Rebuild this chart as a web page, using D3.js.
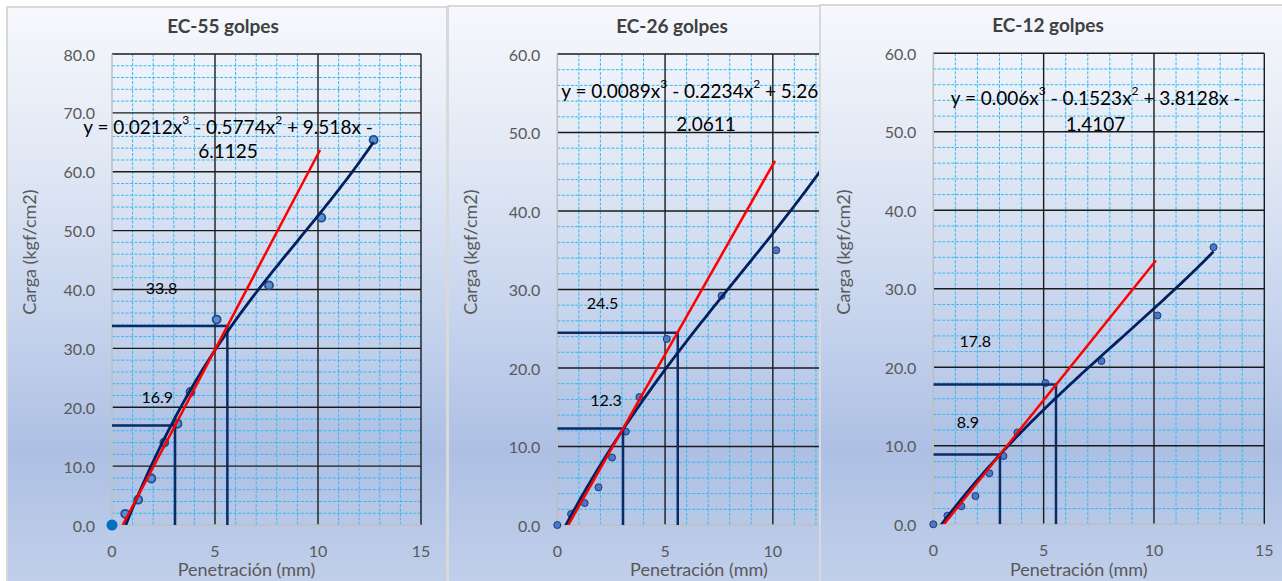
<!DOCTYPE html>
<html lang="es">
<head>
<meta charset="UTF-8">
<title>CBR - carga vs penetración</title>
<script src="https://d3js.org/d3.v7.min.js"></script>
<style>
  body { margin: 0; background: #fff; }
  svg { display: block; font-family: Lato, "Open Sans", sans-serif; }
</style>
</head>
<body>
<div id="viz"></div>
<script>
// penetración estándar (mm)
const penetracion = [0, 0.64, 1.27, 1.91, 2.54, 3.18, 3.81, 5.08, 7.62, 10.16, 12.7];

// carga (kgf/cm2) por número de golpes
const carga55 = [0, 1.9, 4.3, 7.9, 14.0, 17.2, 22.6, 34.9, 40.7, 52.2, 65.4];
const carga26 = [0, 1.4, 2.8, 4.8, 8.6, 11.9, 16.3, 23.7, 29.2, 35.0, 46.5];
const carga12 = [0, 1.1, 2.3, 3.6, 6.5, 8.7, 11.7, 18.0, 20.8, 26.6, 35.3];

// línea de tendencia polinómica (a x³ + b x² + c x + d)
const poli55 = [0.0212, -0.5774, 9.518, -6.1125];
const poli26 = [0.0089, -0.2234, 5.265, -2.0611];
const poli12 = [0.006, -0.1523, 3.8128, -1.4107];

const ecuacion55 = ['y = 0.0212x³ - 0.5774x² + 9.518x -', '6.1125'];
const ecuacion26 = ['y = 0.0089x³ - 0.2234x² + 5.265x -', '2.0611'];
const ecuacion12 = ['y = 0.006x³ - 0.1523x² + 3.8128x -', '1.4107'];

// recta tangente (corrección de origen)
const tangente55 = [[0.52, 0], [10.1, 63.7]];
const tangente26 = [[0.51, 0], [10.1, 46.4]];
const tangente12 = [[0.48, 0], [10.09, 33.6]];

// penetración corregida (0.1" y 0.2") y carga corregida
const corregido55 = [[3.06, 16.9], [5.6, 33.8]];
const corregido26 = [[3.05, 12.3], [5.59, 24.5]];
const corregido12 = [[3.02, 8.9], [5.56, 17.8]];

const xTicks = [0, 5, 10, 15];
const yTicks80 = [0, 10, 20, 30, 40, 50, 60, 70, 80];
const yTicks60 = [0, 10, 20, 30, 40, 50, 60];

const W = 1282, H = 581;

const svg = d3.select('#viz').append('svg')
  .attr('width', W)
  .attr('height', H);

const defs = svg.append('defs');
const grad = defs.append('linearGradient')
  .attr('id', 'fondo')
  .attr('x1', 0).attr('y1', 0).attr('x2', 0).attr('y2', 1);
[[0, '#f6f8fc'], [0.25, '#e2e9f5'], [0.5, '#c9d6ee'], [0.76, '#adc0e4'], [1, '#c2d0ea']]
  .forEach(s => grad.append('stop').attr('offset', s[0]).attr('stop-color', s[1]));

const paneles = [
  {
    id: 'p55', titulo: 'EC-55 golpes', carga: carga55, poli: poli55, ecuacion: ecuacion55,
    tangente: tangente55, corregido: corregido55, yTicks: yTicks80, yMax: 80,
    marco: { x: 7, y: 7, w: 440 },
    plot: { left: 112, right: 421, top: 54, bottom: 525 },
    tituloPos: [223, 25], yLabelPos: [29, 252], ecuPos: [228, 126, 150],
    etiquetas: [[2.2, 21.9], [2.4, 40.4]],
    marcador: { r: 4, fill: '#5b8fd0', stroke: '#1f4e8c', sw: 1.8 }, origenGrande: true
  },
  {
    id: 'p26', titulo: 'EC-26 golpes', carga: carga26, poli: poli26, ecuacion: ecuacion26,
    tangente: tangente26, corregido: corregido26, yTicks: yTicks60, yMax: 60,
    marco: { x: 448, y: 6, w: 480 },
    plot: { left: 557.3, right: 880.6, top: 54, bottom: 525 },
    tituloPos: [672, 25], yLabelPos: [470, 252], ecuPos: [706, 90, 123],
    etiquetas: [[2.26, 16.0], [2.1, 28.4]],
    marcador: { r: 3.5, fill: '#4a78c8', stroke: '#1f3b70', sw: 1 }, origenGrande: false
  },
  {
    id: 'p12', titulo: 'EC-12 golpes', carga: carga12, poli: poli12, ecuacion: ecuacion12,
    tangente: tangente12, corregido: corregido12, yTicks: yTicks60, yMax: 60,
    marco: { x: 820, y: 5, w: 480 },
    plot: { left: 933.3, right: 1264.3, top: 53.3, bottom: 524.3 },
    tituloPos: [1048, 24], yLabelPos: [843, 252], ecuPos: [1095.5, 97, 123],
    etiquetas: [[1.57, 13.1], [1.9, 23.4]],
    marcador: { r: 3.5, fill: '#4a78c8', stroke: '#1f3b70', sw: 1 }, origenGrande: false
  }
];

const polinomio = c => x => ((c[0] * x + c[1]) * x + c[2]) * x + c[3];

paneles.forEach(p => {
  const g = svg.append('g');
  const P = p.plot;

  const x = d3.scaleLinear().domain([0, 15]).range([P.left, P.right]);
  const y = d3.scaleLinear().domain([0, p.yMax]).range([P.bottom, P.top]);

  // fondo del panel
  g.append('rect')
    .attr('x', p.marco.x).attr('y', p.marco.y)
    .attr('width', p.marco.w).attr('height', H - p.marco.y + 10)
    .attr('fill', 'url(#fondo)')
    .attr('stroke', '#d9d9d9').attr('stroke-width', 2);

  // rejilla menor
  const xMenor = d3.range(1, 15).filter(v => v % 5 !== 0);
  const yMenor = d3.range(2, p.yMax, 2).filter(v => v % 10 !== 0);
  g.append('g').selectAll('line').data(xMenor).join('line')
    .attr('x1', d => x(d)).attr('x2', d => x(d))
    .attr('y1', P.top).attr('y2', P.bottom)
    .attr('stroke', '#35b9ef').attr('stroke-width', 1).attr('stroke-dasharray', '3,1.5');
  g.append('g').selectAll('line').data(yMenor).join('line')
    .attr('x1', P.left).attr('x2', P.right)
    .attr('y1', d => y(d)).attr('y2', d => y(d))
    .attr('stroke', '#35b9ef').attr('stroke-width', 1).attr('stroke-dasharray', '3,1.5');

  // rejilla mayor
  g.append('g').selectAll('line').data(xTicks.slice(1)).join('line')
    .attr('x1', d => x(d)).attr('x2', d => x(d))
    .attr('y1', P.top).attr('y2', P.bottom)
    .attr('stroke', '#1a1a1a').attr('stroke-width', 1.4);
  g.append('g').selectAll('line').data(p.yTicks.slice(1)).join('line')
    .attr('x1', P.left).attr('x2', P.right)
    .attr('y1', d => y(d)).attr('y2', d => y(d))
    .attr('stroke', '#1a1a1a').attr('stroke-width', 1.4);

  // ejes
  g.append('line').attr('x1', P.left).attr('x2', P.left).attr('y1', P.top).attr('y2', P.bottom)
    .attr('stroke', '#bfbfbf').attr('stroke-width', 1.5);
  g.append('line').attr('x1', P.left).attr('x2', P.right).attr('y1', P.bottom).attr('y2', P.bottom)
    .attr('stroke', '#bfbfbf').attr('stroke-width', 1.5);

  // etiquetas de ejes
  g.append('g').selectAll('text').data(p.yTicks).join('text')
    .attr('x', P.left - 17).attr('y', d => y(d))
    .attr('text-anchor', 'end').attr('dominant-baseline', 'central')
    .attr('font-size', 16).attr('fill', '#595959')
    .text(d3.format('.1f'));
  g.append('g').selectAll('text').data(xTicks).join('text')
    .attr('x', d => x(d)).attr('y', P.bottom + 25)
    .attr('text-anchor', 'middle').attr('dominant-baseline', 'central')
    .attr('font-size', 16).attr('fill', '#595959')
    .text(d => d);

  g.append('text')
    .attr('x', (P.left + P.right) / 2 - 20).attr('y', 569)
    .attr('text-anchor', 'middle').attr('dominant-baseline', 'central')
    .attr('font-size', 18).attr('fill', '#595959')
    .text('Penetración (mm)');
  g.append('text')
    .attr('transform', `translate(${p.yLabelPos[0]},${p.yLabelPos[1]}) rotate(-90)`)
    .attr('text-anchor', 'middle').attr('dominant-baseline', 'central')
    .attr('font-size', 18).attr('fill', '#595959')
    .text('Carga (kgf/cm2)');

  g.append('text')
    .attr('x', p.tituloPos[0]).attr('y', p.tituloPos[1])
    .attr('text-anchor', 'middle').attr('dominant-baseline', 'central')
    .attr('font-size', 19).attr('font-weight', 'bold').attr('fill', '#404040')
    .text(p.titulo);

  // área de datos recortada
  defs.append('clipPath').attr('id', 'clip-' + p.id)
    .append('rect')
    .attr('x', P.left).attr('y', P.top)
    .attr('width', P.right - P.left).attr('height', P.bottom - P.top);

  const linea = d3.line().x(v => x(v[0])).y(v => y(v[1]));
  const puntos = penetracion.map((v, i) => [v, p.carga[i]]);

  // marcadores (sin recorte, como en la hoja)
  g.append('g').selectAll('circle')
    .data(p.origenGrande ? puntos.slice(1) : puntos).join('circle')
    .attr('cx', v => x(v[0])).attr('cy', v => y(v[1]))
    .attr('r', p.marcador.r)
    .attr('fill', p.marcador.fill)
    .attr('stroke', p.marcador.stroke).attr('stroke-width', p.marcador.sw);
  if (p.origenGrande) {
    g.append('circle')
      .attr('cx', x(puntos[0][0])).attr('cy', y(puntos[0][1]))
      .attr('r', 5.5).attr('fill', '#0070c0');
  }

  const lineas = g.append('g').attr('clip-path', `url(#clip-${p.id})`);

  // líneas de corrección
  p.corregido.forEach(c => {
    lineas.append('path')
      .attr('d', linea([[0, c[1]], [c[0], c[1]], [c[0], 0]]))
      .attr('fill', 'none').attr('stroke', '#0b2a66').attr('stroke-width', 2.5);
  });

  // tendencia polinómica
  const f = polinomio(p.poli);
  const tendencia = d3.range(0, 12.7001, 0.1).map(v => [v, f(v)]);
  lineas.append('path')
    .attr('d', linea(tendencia))
    .attr('fill', 'none').attr('stroke', '#002060').attr('stroke-width', 2.8);

  // tangente
  lineas.append('path')
    .attr('d', linea(p.tangente))
    .attr('fill', 'none').attr('stroke', '#ff0000').attr('stroke-width', 2.5);

  // valores corregidos
  g.append('g').selectAll('text').data(p.corregido).join('text')
    .attr('x', (c, i) => x(p.etiquetas[i][0]))
    .attr('y', (c, i) => y(p.etiquetas[i][1]))
    .attr('text-anchor', 'middle').attr('dominant-baseline', 'central')
    .attr('font-size', 16).attr('fill', '#000')
    .text(c => d3.format('.1f')(c[1]));

  // ecuación, con exponentes como superíndice
  const ecu1 = g.append('text')
    .attr('x', p.ecuPos[0]).attr('y', p.ecuPos[1])
    .attr('text-anchor', 'middle').attr('dominant-baseline', 'central')
    .attr('font-size', 19).attr('fill', '#000');
  let bajar = 0;
  p.ecuacion[0].split(/([³²])/).forEach(parte => {
    if (parte === '³' || parte === '²') {
      ecu1.append('tspan')
        .attr('font-size', 12).attr('dy', -7)
        .text(parte === '³' ? '3' : '2');
      bajar = 7;
    } else if (parte) {
      ecu1.append('tspan').attr('dy', bajar).text(parte);
      bajar = 0;
    }
  });
  g.append('text')
    .attr('x', p.ecuPos[0]).attr('y', p.ecuPos[2])
    .attr('text-anchor', 'middle').attr('dominant-baseline', 'central')
    .attr('font-size', 19).attr('fill', '#000')
    .text(p.ecuacion[1]);
});
</script>
</body>
</html>
